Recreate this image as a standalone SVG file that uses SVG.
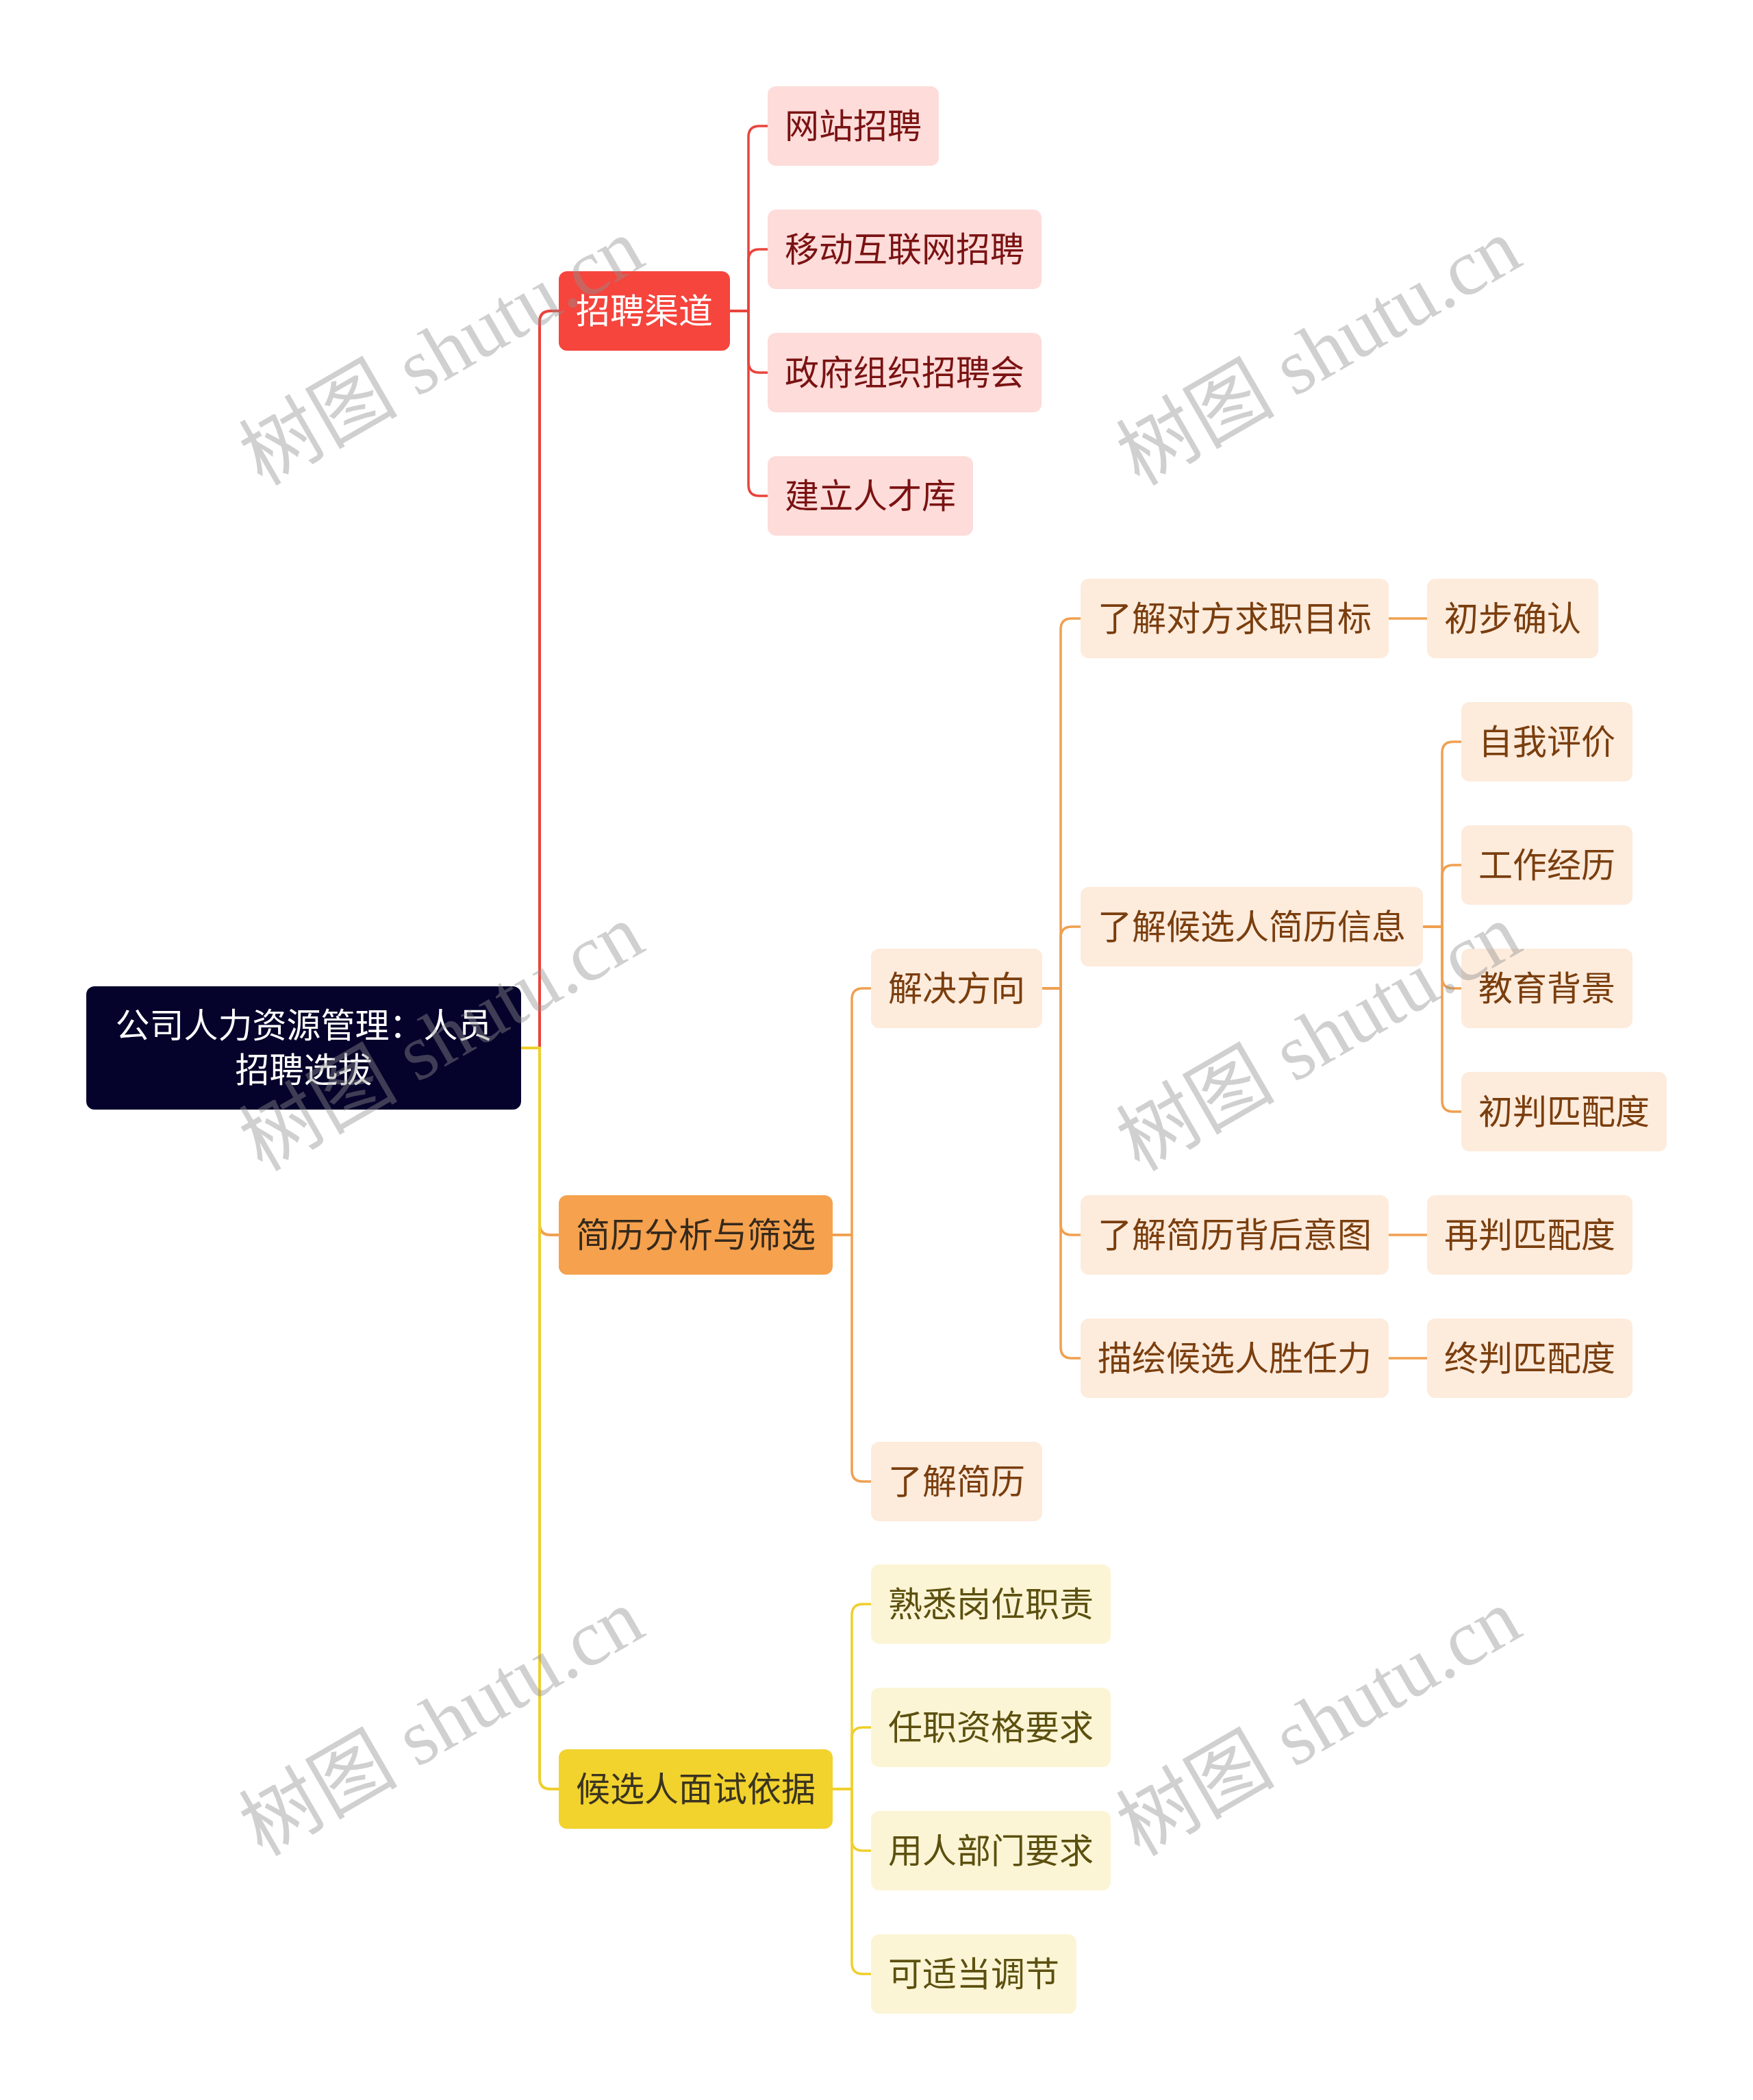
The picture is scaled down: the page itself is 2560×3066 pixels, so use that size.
<svg xmlns="http://www.w3.org/2000/svg" width="2560" height="3066" viewBox="0 0 2560 3066">
<style>
text{font-family:"Noto Sans CJK SC","Noto Sans",sans-serif;dominant-baseline:central;text-anchor:middle;font-size:50px}
.root rect{fill:#05022B}
.root text{fill:#FFFFFF;font-size:50px}
.r1 rect{fill:#F5453D}
.r1 text{fill:#FFFFFF}
.r2 rect{fill:#FDDCDA}
.r2 text{fill:#7A1212}
.o1 rect{fill:#F5A14E}
.o1 text{fill:#36291B}
.o2 rect{fill:#FDEBDC}
.o2 text{fill:#7A3E0E}
.y1 rect{fill:#F2D22D}
.y1 text{fill:#3A3420}
.y2 rect{fill:#FCF5D5}
.y2 text{fill:#5C5010}
.c path{fill:none;stroke-linecap:round;stroke-linejoin:round}
.cr{stroke:#E8443C}
.co{stroke:#F0A050}
.cy{stroke:#EFCF2C}
.w1{stroke-width:4}
.w2{stroke-width:3.5}
.wm{font-family:"Liberation Serif","Noto Sans CJK SC",serif;font-size:116px;fill:#8f8f8f;fill-opacity:0.42}
</style>

<g id="connectors" class="c">
  <path class="cr w1" d="M761 1530 H788 V470 Q788 454 804 454 H816"/>
  <path class="co w1" d="M761 1530 H788 V1787 Q788 1803 804 1803 H816"/>
  <path class="cy w1" d="M761 1530 H788 V2596 Q788 2612 804 2612 H816"/>

  <path class="cr w2" d="M1066 454 H1093 V200 Q1093 184 1109 184 H1121"/>
  <path class="cr w2" d="M1066 454 H1093 V380 Q1093 364 1109 364 H1121"/>
  <path class="cr w2" d="M1066 454 H1093 V528 Q1093 544 1109 544 H1121"/>
  <path class="cr w2" d="M1066 454 H1093 V708 Q1093 724 1109 724 H1121"/>

  <path class="co w2" d="M1216 1803 H1244 V1459 Q1244 1443 1260 1443 H1272"/>
  <path class="co w2" d="M1216 1803 H1244 V2147 Q1244 2163 1260 2163 H1272"/>

  <path class="co w2" d="M1522 1443 H1549 V919 Q1549 903 1565 903 H1578"/>
  <path class="co w2" d="M1522 1443 H1549 V1369 Q1549 1353 1565 1353 H1578"/>
  <path class="co w2" d="M1522 1443 H1549 V1787 Q1549 1803 1565 1803 H1578"/>
  <path class="co w2" d="M1522 1443 H1549 V1967 Q1549 1983 1565 1983 H1578"/>

  <path class="co w2" d="M2028 903 H2084"/>
  <path class="co w2" d="M2028 1803 H2084"/>
  <path class="co w2" d="M2028 1983 H2084"/>

  <path class="co w2" d="M2078 1353 H2106 V1099 Q2106 1083 2122 1083 H2134"/>
  <path class="co w2" d="M2078 1353 H2106 V1279 Q2106 1263 2122 1263 H2134"/>
  <path class="co w2" d="M2078 1353 H2106 V1427 Q2106 1443 2122 1443 H2134"/>
  <path class="co w2" d="M2078 1353 H2106 V1607 Q2106 1623 2122 1623 H2134"/>

  <path class="cy w2" d="M1216 2612 H1244 V2358 Q1244 2342 1260 2342 H1272"/>
  <path class="cy w2" d="M1216 2612 H1244 V2538 Q1244 2522 1260 2522 H1272"/>
  <path class="cy w2" d="M1216 2612 H1244 V2686 Q1244 2702 1260 2702 H1272"/>
  <path class="cy w2" d="M1216 2612 H1244 V2866 Q1244 2882 1260 2882 H1272"/>
</g>

<g id="root" class="root">
  <rect x="126" y="1440" width="635" height="180" rx="12"/>
  <text x="443.5" y="1493">公司人力资源管理：人员</text>
  <text x="443.5" y="1558">招聘选拔</text>
</g>

<g id="n-zpqd" class="r1"><rect x="816" y="396" width="250" height="116" rx="12"/><text x="941" y="450">招聘渠道</text></g>
<g id="n-wzzp" class="r2"><rect x="1121" y="126" width="250" height="116" rx="12"/><text x="1246" y="180">网站招聘</text></g>
<g id="n-ydhlw" class="r2"><rect x="1121" y="306" width="400" height="116" rx="12"/><text x="1321" y="360">移动互联网招聘</text></g>
<g id="n-zfzz" class="r2"><rect x="1121" y="486" width="400" height="116" rx="12"/><text x="1321" y="540">政府组织招聘会</text></g>
<g id="n-jlrck" class="r2"><rect x="1121" y="666" width="300" height="116" rx="12"/><text x="1271" y="720">建立人才库</text></g>

<g id="n-jlfx" class="o1"><rect x="816" y="1745" width="400" height="116" rx="12"/><text x="1016" y="1799">简历分析与筛选</text></g>
<g id="n-jjfx" class="o2"><rect x="1272" y="1385" width="250" height="116" rx="12"/><text x="1397" y="1439">解决方向</text></g>
<g id="n-ljjl" class="o2"><rect x="1272" y="2105" width="250" height="116" rx="12"/><text x="1397" y="2159">了解简历</text></g>
<g id="n-ldfmb" class="o2"><rect x="1578" y="845" width="450" height="116" rx="12"/><text x="1803" y="899">了解对方求职目标</text></g>
<g id="n-ljxx" class="o2"><rect x="1578" y="1295" width="500" height="116" rx="12"/><text x="1828" y="1349">了解候选人简历信息</text></g>
<g id="n-bhyt" class="o2"><rect x="1578" y="1745" width="450" height="116" rx="12"/><text x="1803" y="1799">了解简历背后意图</text></g>
<g id="n-srl" class="o2"><rect x="1578" y="1925" width="450" height="116" rx="12"/><text x="1803" y="1979">描绘候选人胜任力</text></g>
<g id="n-cbqr" class="o2"><rect x="2084" y="845" width="250" height="116" rx="12"/><text x="2209" y="899">初步确认</text></g>
<g id="n-zwpj" class="o2"><rect x="2134" y="1025" width="250" height="116" rx="12"/><text x="2259" y="1079">自我评价</text></g>
<g id="n-gzjl" class="o2"><rect x="2134" y="1205" width="250" height="116" rx="12"/><text x="2259" y="1259">工作经历</text></g>
<g id="n-jybj" class="o2"><rect x="2134" y="1385" width="250" height="116" rx="12"/><text x="2259" y="1439">教育背景</text></g>
<g id="n-cpppd" class="o2"><rect x="2134" y="1565" width="300" height="116" rx="12"/><text x="2284" y="1619">初判匹配度</text></g>
<g id="n-zpppd" class="o2"><rect x="2084" y="1745" width="300" height="116" rx="12"/><text x="2234" y="1799">再判匹配度</text></g>
<g id="n-zhpppd" class="o2"><rect x="2084" y="1925" width="300" height="116" rx="12"/><text x="2234" y="1979">终判匹配度</text></g>

<g id="n-msyj" class="y1"><rect x="816" y="2554" width="400" height="116" rx="12"/><text x="1016" y="2608">候选人面试依据</text></g>
<g id="n-sxgw" class="y2"><rect x="1272" y="2284" width="350" height="116" rx="12"/><text x="1447" y="2338">熟悉岗位职责</text></g>
<g id="n-rzzg" class="y2"><rect x="1272" y="2464" width="350" height="116" rx="12"/><text x="1447" y="2518">任职资格要求</text></g>
<g id="n-yrbm" class="y2"><rect x="1272" y="2644" width="350" height="116" rx="12"/><text x="1447" y="2698">用人部门要求</text></g>
<g id="n-ktj" class="y2"><rect x="1272" y="2824" width="300" height="116" rx="12"/><text x="1422" y="2878">可适当调节</text></g>

<g id="watermarks">
  <text class="wm" transform="translate(645 514) rotate(-30)">树图 shutu.cn</text>
  <text class="wm" transform="translate(1926 514) rotate(-30)">树图 shutu.cn</text>
  <text class="wm" transform="translate(645 1515) rotate(-30)">树图 shutu.cn</text>
  <text class="wm" transform="translate(1926 1515) rotate(-30)">树图 shutu.cn</text>
  <text class="wm" transform="translate(645 2515) rotate(-30)">树图 shutu.cn</text>
  <text class="wm" transform="translate(1926 2515) rotate(-30)">树图 shutu.cn</text>
</g>
</svg>
